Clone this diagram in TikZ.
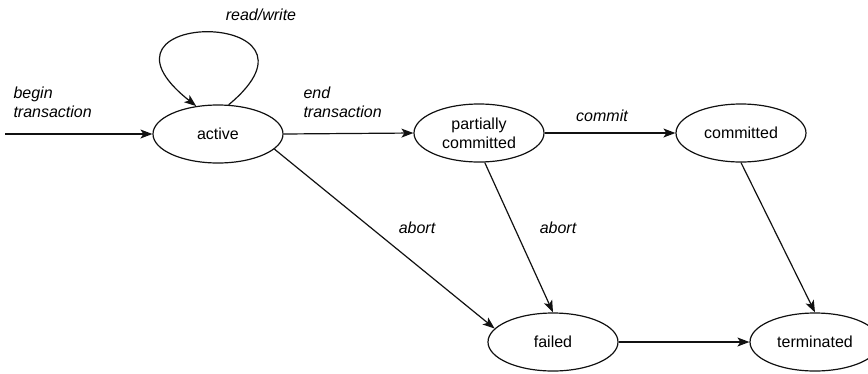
\documentclass[tikz,border=0pt]{standalone}
\usepackage{fontspec}
\setmainfont{Liberation Sans}
\usepackage{xcolor}
\definecolor{cLine}{HTML}{111111}
\usepackage{tikz}
\usetikzlibrary{positioning,arrows.meta,shapes.geometric}
\tikzset{
  node-state/.style={draw=cLine,line width=1.2pt,ellipse,inner sep=0pt,
    minimum width=130pt,minimum height=58pt,align=center,
    font=\fontsize{16}{19}\selectfont},
  edge-label/.style={font=\fontsize{16}{19}\selectfont\itshape,align=left},
  arrow/.style={-{Stealth[length=12pt,width=9pt,inset=3pt]},line width=1.2pt,draw=cLine},
}

\begin{document}
\begin{tikzpicture}[x=1pt,y=-1pt]
  \useasboundingbox (0,0) rectangle (868,373);
  \node[node-state] (act)  at (218,134) {active};
  \node[node-state] (pc)   at (479,133) {partially\\committed};
  \node[node-state] (cmt)  at (741,133) {committed};
  \node[node-state] (fail) at (553,342) {failed};
  \node[node-state] (term) at (815,342) {terminated};
  \coordinate (start) at (5,134);
  % labels
  \node[edge-label,anchor=west] (l-begin) at (10,102) {begin\\transaction};
  \node[edge-label,anchor=west] (l-end)   at (300,102) {end\\transaction};
  \node[edge-label] (l-rw)     at (261,15)  {read/write};
  \node[edge-label] (l-commit) at (602,116) {commit};
  \node[edge-label] (l-ab1)    at (417,228) {abort};
  \node[edge-label] (l-ab2)    at (558,228) {abort};
  % transitions
  \draw[arrow] (start) -- (act.west);
  \draw[arrow] (act.70) .. controls (345,8) and (72,8) .. (act.128);
  \draw[arrow] (act.east) -- (pc.west);
  \draw[arrow] (pc.east) -- (cmt.west);
  \draw[arrow] (act.-15) -- (fail.167);
  \draw[arrow] (pc.-79) -- (fail.north);
  \draw[arrow] (cmt.south) -- (term.north);
  \draw[arrow] (fail.east) -- (term.west);
\end{tikzpicture}
\end{document}
